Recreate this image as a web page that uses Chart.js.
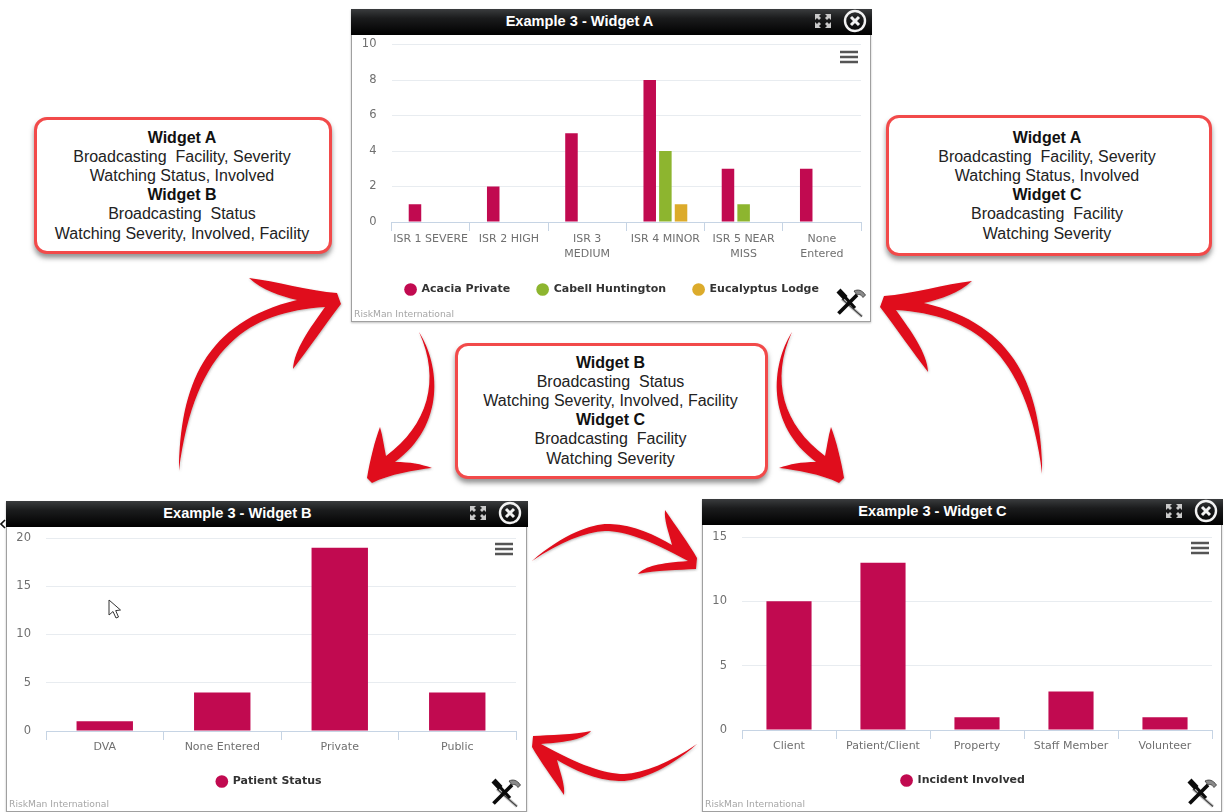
<!DOCTYPE html>
<html><head><meta charset="utf-8">
<script src="https://cdn.jsdelivr.net/npm/chart.js@4"></script>
<style>
html,body{margin:0;padding:0;background:#fff;width:1225px;height:812px;overflow:hidden;font-family:"Liberation Sans",Arial,sans-serif}
body{filter:blur(.35px)}
.w{position:absolute;box-sizing:border-box;background:#fff;border:1.5px solid #a0a0a0;border-top:0;box-shadow:0 1px 2px rgba(0,0,0,.25)}
.w canvas{position:absolute;left:0;top:0}
.h{position:absolute;left:-1.5px;right:-1.5px;top:0;height:26px;background:linear-gradient(#3a3c3e,#1b1c1d 35%,#000 100%);color:#fff;font:bold 14.6px "Liberation Sans";line-height:25px;text-align:center;z-index:2}
.h span{position:absolute;left:0;width:460px;text-align:center}
.credit{position:absolute;left:2px;bottom:2px;font:9.2px "DejaVu Sans";color:#a6a6a6;z-index:3}
.ico{position:absolute;z-index:3}
.c{position:absolute;box-sizing:border-box;background:#fff;border:3px solid #f24a4a;border-radius:13px;box-shadow:0 4px 5px rgba(60,60,60,.55);text-align:center;font:16px "Liberation Sans";line-height:19.2px;color:#222}
.c b{color:#111;display:block}
#ov{position:absolute;left:0;top:0;z-index:5;pointer-events:none}
</style></head><body>

<svg id="ov" width="1225" height="812" viewBox="0 0 1225 812">
<defs>
<filter id="s" x="-10%" y="-10%" width="120%" height="120%"><feDropShadow dx="0.5" dy="1" stdDeviation="0.8" flood-color="#555" flood-opacity=".45"/></filter>
<path id="a1" d="M179,471 C180,385 205,322 297,300 C280,296 262,290 249,278 C275,281 310,291 337,293 L341,304 C325,325 308,350 293,369 C294,350 310,328 325,307 C250,312 195,345 179,471Z"/>
<path id="a2" d="M419,332 C440,365 446,425 395,462 C410,462 421,464 432,468 C415,470 390,474 372,483 L367,478 C370,460 375,440 380,427 C383,437 384,447 386,456 C428,425 441,380 419,332Z"/>
<path id="a5" d="M532,561 C565,532 595,523 610,524 C635,525 655,535 672,545 C668,530 664,520 665,510 C675,525 690,545 697,558 L696,569 C680,570 655,570 638,574 C645,566 660,563 688,561 C650,540 625,531 605,531 C585,532 560,542 532,561Z"/>
<symbol id="tools" viewBox="0 0 32 32">
<path d="M7 12 L27 29.5" stroke="#cfcfcf" stroke-width="3.4" fill="none"/>
<path d="M7 12 L27 29.5" stroke="#444" stroke-width="1.2" fill="none"/>
<path d="M19 4 C23 2 27 3 30.5 8 L28 10.5 C26 7.5 24 7 22 8Z" fill="#8a8a8a" stroke="#333" stroke-width=".8"/>
<path d="M1.5 5.5 L5.5 1.5 L12.5 9 L8.5 13Z" fill="#0b0b0b"/>
<path d="M22 8 L3.5 26.5" stroke="#0b0b0b" stroke-width="3.8" fill="none"/>
<path d="M9 9 L20 21" stroke="#0b0b0b" stroke-width="3.2" fill="none"/>
</symbol>
<symbol id="exp" viewBox="0 0 18 16">
<g fill="#c9c9c9"><path d="M1 1h6l-2 2 2 2-2 2-2-2-2 2z"/><path d="M17 1h-6l2 2-2 2 2 2 2-2 2 2z"/><path d="M1 15h6l-2-2 2-2-2-2-2 2-2-2z"/><path d="M17 15h-6l2-2-2-2 2-2 2 2 2-2z"/></g>
</symbol>
<symbol id="cls" viewBox="0 0 24 24">
<circle cx="12" cy="12" r="10" fill="none" stroke="#f2f2f2" stroke-width="2.4"/>
<path d="M8 8 L16 16 M16 8 L8 16" stroke="#f2f2f2" stroke-width="3"/>
</symbol>
<symbol id="ham" viewBox="0 0 18 14">
<path d="M0 2H18M0 7H18M0 12H18" stroke="#555" stroke-width="2.6"/>
</symbol>
</defs>
<g fill="#e0091b" filter="url(#s)">
<use href="#a1"/>
<use href="#a1" transform="translate(1221,3) scale(-1,1)"/>
<use href="#a2"/>
<use href="#a2" transform="translate(1211,0) scale(-1,1)"/>
<use href="#a5"/>
<use href="#a5" transform="translate(1229,1305) scale(-1,-1)"/>
</g>
<path d="M109 600 L109 615 L113 611.5 L116 618 L118.5 617 L115.7 610.6 L120.5 610Z" fill="#fff" stroke="#333" stroke-width="1"/>
<path d="M5 520 L1 524 L5 528" fill="none" stroke="#111" stroke-width="1.6"/>
</svg>

<div class="c" style="left:34px;top:117px;width:298px;height:137px;padding-top:7.5px;padding-right:2px"><b>Widget A</b>Broadcasting&nbsp; Facility, Severity<br>Watching Status, Involved<b>Widget B</b>Broadcasting&nbsp; Status<br>Watching Severity, Involved, Facility</div>
<div class="c" style="left:886px;top:115px;width:326px;height:141px;padding-top:9.5px;padding-right:4px"><b>Widget A</b>Broadcasting&nbsp; Facility, Severity<br>Watching Status, Involved<b>Widget C</b>Broadcasting&nbsp; Facility<br>Watching Severity</div>
<div class="c" style="left:455px;top:343px;width:313px;height:136px;padding-top:6.5px;padding-right:2px"><b>Widget B</b>Broadcasting&nbsp; Status<br>Watching Severity, Involved, Facility<b>Widget C</b>Broadcasting&nbsp; Facility<br>Watching Severity</div>

<script>
const categoriesA = ["ISR 1 SEVERE","ISR 2 HIGH",["ISR 3","MEDIUM"],"ISR 4 MINOR",["ISR 5 NEAR","MISS"],["None","Entered"]];
const acaciaPrivate = [1,2,5,8,3,3];
const cabellHuntington = [0,0,0,4,1,0];
const eucalyptusLodge = [0,0,0,1,0,0];
const categoriesB = ["DVA","None Entered","Private","Public"];
const patientStatus = [1,4,19,4];
const categoriesC = ["Client","Patient/Client","Property","Staff Member","Volunteer"];
const incidentInvolved = [10,13,1,3,1];
const PINK="#c10a50", GREEN="#8db52f", GOLD="#dcab2b";

function widget(cfg){
  const el=document.createElement('div');el.className='w';
  el.style.cssText=`left:${cfg.x}px;top:${cfg.y}px;width:${cfg.w}px;height:${cfg.h}px`;
  el.innerHTML=`<div class="h" ><span style="left:${cfg.tx-230}px">${cfg.title}</span></div>
  <svg class="ico" style="left:462px;top:4px" width="18" height="16"><use href="#exp" width="18" height="16"/></svg>
  <svg class="ico" style="left:491px;top:0" width="24" height="24"><use href="#cls" width="24" height="24"/></svg>
  <svg class="ico" style="left:488px;top:${cfg.hy}px" width="18" height="14"><use href="#ham" width="18" height="14"/></svg>
  <svg class="ico" style="left:483px;top:${cfg.h-35}px" width="32" height="32"><use href="#tools" width="32" height="32"/></svg>
  <div class="credit">RiskMan International</div>`;
  const cv=document.createElement('canvas');cv.width=cfg.w;cv.height=cfg.h;el.appendChild(cv);
  document.body.appendChild(el);
  new Chart(cv,{type:'bar',data:{labels:cfg.labels,datasets:cfg.datasets.map(d=>({label:d.label,data:d.data,backgroundColor:d.color,borderWidth:0,categoryPercentage:cfg.cat,barPercentage:cfg.bar}))},
    plugins:[{id:'placeLegend',afterLayout(chart){const l=chart.legend;const h=l.height;l.top=cfg.legendY-h/2;l.bottom=l.top+h;l.left+=cfg.legDx;l.right+=cfg.legDx;}}],
    options:{responsive:false,animation:false,devicePixelRatio:1,
      layout:{padding:{left:0,right:cfg.w-cfg.plotR,top:cfg.plotT,bottom:0}},
      plugins:{tooltip:{enabled:false},title:{display:false},
        legend:{position:'bottom',labels:{usePointStyle:true,pointStyle:'circle',boxWidth:11,boxHeight:9,padding:27,color:'#333',font:{family:'DejaVu Sans',size:11,weight:'bold'}}}},
      scales:{
        x:{afterFit(s){s.height=s.chart.height-s.chart.legend.height-cfg.plotB;},
          grid:{offset:true,drawOnChartArea:false,drawTicks:true,tickLength:9,tickColor:'#c6d4e4'},
          border:{color:'#c6d4e4',width:1},
          ticks:{color:'#707070',padding:cfg.xPad,maxRotation:0,autoSkip:false,font:{family:'DejaVu Sans',size:11,lineHeight:1.36}}},
        y:{min:0,max:cfg.max,afterFit(s){s.width=cfg.plotL;},
          grid:{color:'#e8ecf0',drawTicks:false,lineWidth:1},border:{display:false},
          ticks:{stepSize:cfg.step,color:'#707070',padding:15,font:{family:'DejaVu Sans',size:11.5}}}
      }}});
}
widget({x:351,y:9,w:520,h:313,title:"Example 3 - Widget A",tx:229,hy:41,xPad:1,
  plotL:39.5,plotR:509,plotT:35.5,plotB:213,max:10,step:2,legendY:272,legDx:5.5,cat:.6,bar:.8,labels:categoriesA,
  datasets:[{label:"Acacia Private",data:acaciaPrivate,color:PINK},{label:"Cabell Huntington",data:cabellHuntington,color:GREEN},{label:"Eucalyptus Lodge",data:eucalyptusLodge,color:GOLD}]});
widget({x:6,y:501,w:521,h:311,title:"Example 3 - Widget B",tx:232,hy:41,xPad:0,
  plotL:39,plotR:509,plotT:37,plotB:230,max:20,step:5,legendY:272,legDx:7.5,cat:.8,bar:.6,labels:categoriesB,
  datasets:[{label:"Patient Status",data:patientStatus,color:PINK}]});
widget({x:702,y:499,w:520,h:313,title:"Example 3 - Widget C",tx:231,hy:42,xPad:0,
  plotL:39,plotR:509,plotT:38,plotB:231,max:15,step:5,legendY:273,legDx:5.5,cat:.8,bar:.6,labels:categoriesC,
  datasets:[{label:"Incident Involved",data:incidentInvolved,color:PINK}]});
</script>
</body></html>
